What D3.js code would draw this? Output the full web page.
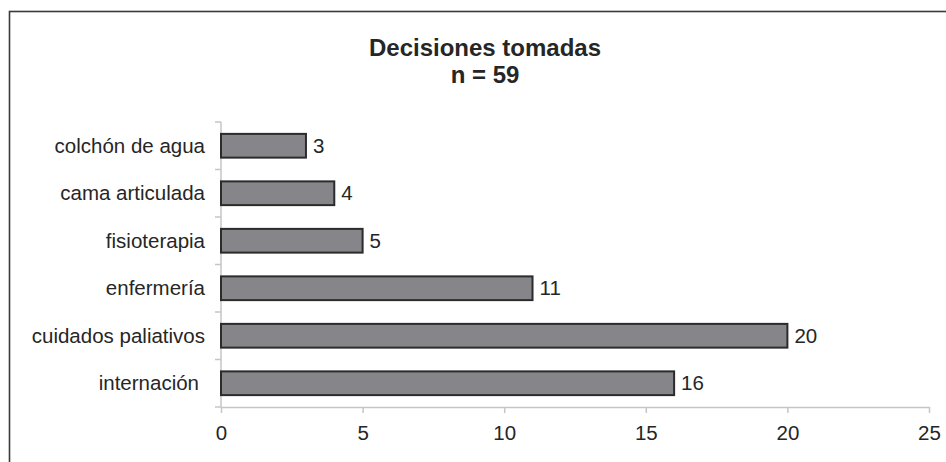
<!DOCTYPE html>
<html>
<head>
<meta charset="utf-8">
<script src="https://cdn.jsdelivr.net/npm/d3@7/dist/d3.min.js"></script>
<style>
  html, body { margin: 0; padding: 0; background: #fff; }
  svg { display: block; font-family: "Liberation Sans", Arial, sans-serif; }
</style>
</head>
<body>
<svg id="chart" width="946" height="462"></svg>
<script>
// Decisions taken (n = 59)
const titleLines = ["Decisiones tomadas", "n = 59"];
const categories = ["colchón de agua", "cama articulada", "fisioterapia", "enfermería", "cuidados paliativos", "internación"];
const counts = [3, 4, 5, 11, 20, 16];
const xTicks = [0, 5, 10, 15, 20, 25];

const svg = d3.select("#chart");
const margin = { left: 221, right: 17, top: 122, bottom: 55 };
const W = 946, H = 462;

// frame around the figure
svg.append("rect")
  .attr("x", 9.5).attr("y", 11.5)
  .attr("width", 960).attr("height", 500)
  .attr("fill", "none")
  .attr("stroke", "#3a3a3a")
  .attr("stroke-width", 1.6);

// title
svg.append("g").selectAll("text")
  .data(titleLines)
  .join("text")
  .attr("x", 485)
  .attr("y", (d, i) => 56 + i * 27)
  .attr("text-anchor", "middle")
  .attr("font-weight", "bold")
  .attr("font-size", 24)
  .attr("fill", "#262626")
  .text(d => d);

const x = d3.scaleLinear().domain([0, 25]).range([margin.left, W - margin.right]);
const y = d3.scaleBand().domain(categories).range([margin.top, H - margin.bottom]).paddingInner(0.5).paddingOuter(0.25);
const step = y.step();
const axisColor = "#c6c6c6";

// x axis
const xAxis = svg.append("g")
  .attr("transform", `translate(0,${H - margin.bottom})`)
  .call(d3.axisBottom(x).tickValues(xTicks).tickSize(6).tickPadding(12).tickSizeOuter(0));
xAxis.select(".domain").attr("stroke", axisColor).attr("stroke-width", 1.5);
xAxis.selectAll(".tick line").attr("stroke", axisColor).attr("stroke-width", 1.5);
xAxis.selectAll(".tick text")
  .attr("font-size", 20.5)
  .attr("fill", "#262626")
  .attr("font-family", "Liberation Sans, Arial, sans-serif");

// y axis line with ticks on category boundaries
const yAxis = svg.append("g");
yAxis.append("line")
  .attr("x1", margin.left).attr("x2", margin.left)
  .attr("y1", margin.top).attr("y2", H - margin.bottom)
  .attr("stroke", axisColor).attr("stroke-width", 1.5);
const bounds = categories.map(c => y(c) - step * y.paddingInner() / 2).concat([H - margin.bottom]);
yAxis.selectAll("line.tk")
  .data(bounds)
  .join("line")
  .attr("class", "tk")
  .attr("x1", margin.left - 6).attr("x2", margin.left)
  .attr("y1", d => d).attr("y2", d => d)
  .attr("stroke", axisColor).attr("stroke-width", 1.5);

// category labels (the last one sits slightly further left)
svg.append("g").selectAll("text")
  .data(categories)
  .join("text")
  .attr("x", (d, i) => margin.left - 16 - (i === categories.length - 1 ? 6 : 0))
  .attr("y", d => y(d) + y.bandwidth() / 2)
  .attr("dy", "0.35em")
  .attr("text-anchor", "end")
  .attr("font-size", 20.5)
  .attr("fill", "#262626")
  .text(d => d);

// bars
svg.append("g").selectAll("rect")
  .data(categories)
  .join("rect")
  .attr("x", x(0))
  .attr("y", (d, i) => y(d))
  .attr("width", (d, i) => x(counts[i]) - x(0))
  .attr("height", y.bandwidth())
  .attr("fill", "#85858a")
  .attr("stroke", "#2b2b2b")
  .attr("stroke-width", 2);

// value labels
svg.append("g").selectAll("text")
  .data(categories)
  .join("text")
  .attr("x", (d, i) => x(counts[i]) + 7)
  .attr("y", d => y(d) + y.bandwidth() / 2)
  .attr("dy", "0.35em")
  .attr("font-size", 20.5)
  .attr("fill", "#262626")
  .text((d, i) => counts[i]);
</script>
</body>
</html>
